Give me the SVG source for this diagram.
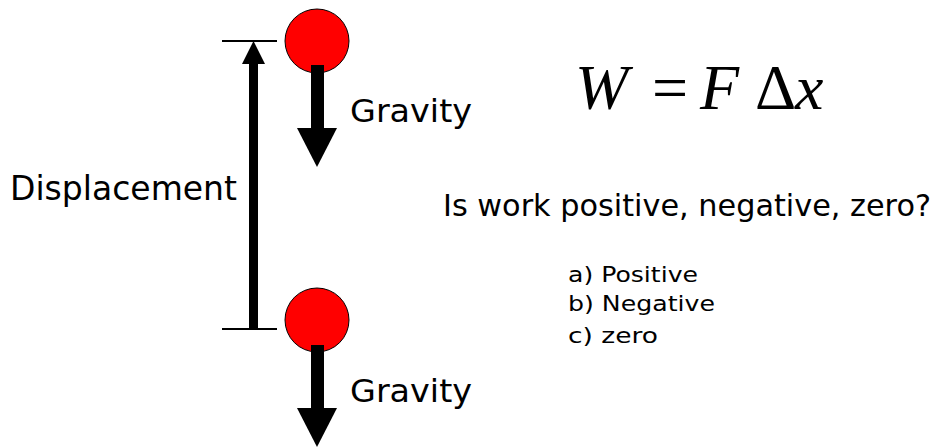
<svg xmlns="http://www.w3.org/2000/svg" width="936" height="448" viewBox="0 0 936 448">
<style>
.lbl{font-family:"Comic Sans MS","DejaVu Sans","Liberation Sans",sans-serif;fill:#000}
.ball{fill:#ff0000;stroke:#000;stroke-width:1}
.tick{stroke:#000;stroke-width:2}
.eq{font-family:"Liberation Serif","Times New Roman",serif;fill:#000}
</style>
<rect width="936" height="448" fill="#fff"/>
<g id="connectors">
  <line class="tick" x1="222" y1="41" x2="277" y2="41"/>
  <line class="tick" x1="222" y1="329" x2="277" y2="329"/>
  <rect x="249" y="60" width="9" height="269" fill="#000"/>
  <polygon points="253.5,41 242,64 265,64" fill="#000"/>
</g>
<g id="ball-top">
  <circle class="ball" cx="317" cy="41" r="32"/>
  <rect x="311" y="65" width="13" height="64" fill="#000"/>
  <polygon points="297,128 337,128 317,167" fill="#000"/>
  <text class="lbl" x="350" y="122" font-size="32" textLength="122" lengthAdjust="spacingAndGlyphs">Gravity</text>
</g>
<g id="ball-bottom">
  <circle class="ball" cx="317" cy="320" r="32"/>
  <rect x="311" y="345" width="13" height="64" fill="#000"/>
  <polygon points="297,408 337,408 317,447" fill="#000"/>
  <text class="lbl" x="350" y="402" font-size="32" textLength="122" lengthAdjust="spacingAndGlyphs">Gravity</text>
</g>
<g id="displacement">
  <text class="lbl" x="10" y="200" font-size="33" textLength="227" lengthAdjust="spacingAndGlyphs">Displacement</text>
</g>
<g id="equation">
  <text class="eq" x="575" y="109" font-size="64"><tspan font-style="italic">W</tspan><tspan x="652">=</tspan><tspan x="700" font-style="italic">F</tspan><tspan x="755">Δ</tspan><tspan x="795" font-style="italic">x</tspan></text>
</g>
<g id="question">
  <text class="lbl" x="443" y="216" font-size="30" textLength="488" lengthAdjust="spacingAndGlyphs">Is work positive, negative, zero?</text>
  <text class="lbl" x="568" y="282" font-size="22" textLength="130" lengthAdjust="spacingAndGlyphs">a) Positive</text>
  <text class="lbl" x="568" y="311" font-size="22" textLength="147" lengthAdjust="spacingAndGlyphs">b) Negative</text>
  <text class="lbl" x="568" y="343" font-size="22" textLength="90" lengthAdjust="spacingAndGlyphs">c) zero</text>
</g>
</svg>
